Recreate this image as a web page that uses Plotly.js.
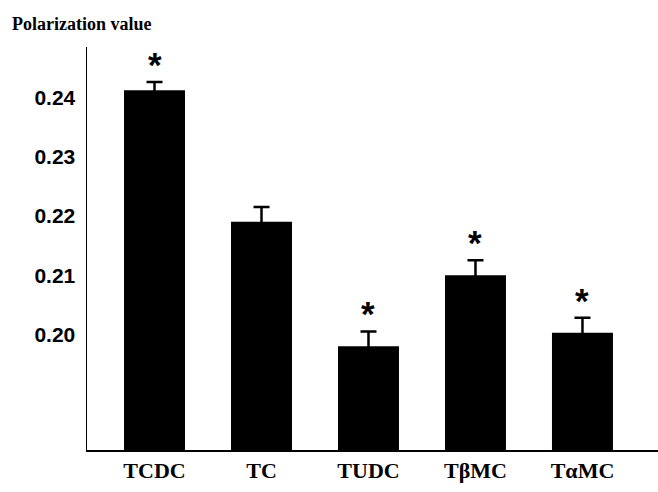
<!DOCTYPE html>
<html>
<head>
<meta charset="utf-8">
<script src="https://cdn.plot.ly/plotly-3.0.1.min.js"></script>
<style>html,body{margin:0;padding:0;background:#fff;}#chart{width:658px;height:492px;}</style>
</head>
<body>
<div id="chart"></div>
<script>
// Data
const categories = ["TCDC", "TC", "TUDC", "TβMC", "TαMC"];
const polarization = [0.2412, 0.2190, 0.1980, 0.2100, 0.2003];
const sem = [0.0014, 0.0025, 0.0025, 0.0025, 0.0025];
const significant = [true, false, true, true, true];
const yTickValues = [0.20, 0.21, 0.22, 0.23, 0.24];
const yTickLabels = ["0.20", "0.21", "0.22", "0.23", "0.24"];

const trace = {
  type: "bar",
  x: categories,
  y: polarization,
  width: 0.57,
  marker: {color: "#000000", line: {width: 0}},
  error_y: {type: "data", array: sem, visible: true, color: "#000000", thickness: 2.5, width: 8},
  hoverinfo: "skip"
};

const annotations = categories.map((c, i) => significant[i] ? {
  x: c, y: polarization[i] + sem[i], xref: "x", yref: "y",
  text: "*", showarrow: false, yanchor: "bottom", yshift: -4,
  font: {family: "Liberation Sans, Arial, sans-serif", size: 35, color: "#000", weight: "bold"}
} : null).filter(a => a);

const layout = {
  width: 658, height: 492,
  margin: {l: 87, r: 0, t: 47, b: 42, pad: 0},
  paper_bgcolor: "#fff", plot_bgcolor: "#fff",
  showlegend: false,
  title: {
    text: "Polarization value",
    x: 12 / 658, xanchor: "left", xref: "container",
    y: 1 - 24 / 492, yanchor: "middle", yref: "container",
    font: {family: "Liberation Serif, Times New Roman, serif", size: 18, color: "#000", weight: "bold"}
  },
  xaxis: {
    type: "category",
    range: [-0.631, 4.706],
    showline: true, linecolor: "#000", linewidth: 2,
    showgrid: false, zeroline: false,
    ticks: "", ticklen: 0,
    tickfont: {family: "Liberation Serif, Times New Roman, serif", size: 22, color: "#000", weight: "bold"}
  },
  yaxis: {
    range: [0.1805, 0.2485],
    showline: true, linecolor: "#000", linewidth: 1.5,
    showgrid: false, zeroline: false,
    tickmode: "array", tickvals: yTickValues, ticktext: yTickLabels,
    ticks: "outside", ticklen: 6, tickcolor: "rgba(0,0,0,0)",
    tickfont: {family: "Liberation Sans, Arial, sans-serif", size: 21, color: "#000", weight: "bold"}
  },
  annotations: annotations
};

Plotly.newPlot("chart", [trace], layout, {displayModeBar: false, staticPlot: true});
</script>
</body>
</html>
